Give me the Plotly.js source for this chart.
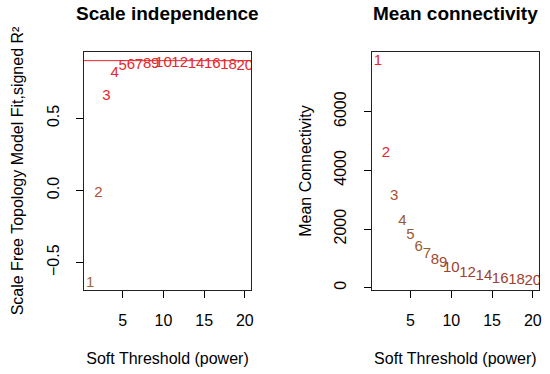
<!DOCTYPE html>
<html><head><meta charset="utf-8">
<script src="https://cdn.plot.ly/plotly-3.0.1.min.js"></script>
<style>body{margin:0;background:#fff}</style></head>
<body><div id="chart" style="width:550px;height:374px"></div>
<script>
const powers = [1,2,3,4,5,6,7,8,9,10,12,14,16,18,20];
const powerLabels = ["1","2","3","4","5","6","7","8","9","10","12","14","16","18","20"];
const scaleFitR2 = [-0.642,-0.02,0.655,0.812,0.858,0.865,0.870,0.877,0.877,0.882,0.882,0.877,0.873,0.870,0.863];
const meanConnectivity = [7708,4578,3119,2275,1787,1366,1138,933,820,649,512,386,307,249,215];
const cutHeight = 0.9;
const xTicks = [5,10,15,20];
const leftYTicks = [-0.5,0,0.5];
const leftYTickText = ["\u22120.5","0.0","0.5"];
const rightYTicks = [0,2000,4000,6000];
const rightYTickText = ["0","2000","4000","6000"];
const leftColors = ["#9a6a3a","#b05030","#e8262b","#e8262b","#e8262b","#e8262b","#e8262b","#e8262b","#e8262b","#e8262b","#e8262b","#e8262b","#e8262b","#e8262b","#e8262b"];
const rightColors = ["#e8262b","#e8262b","#a8502e","#9a5a30","#9a5a30","#9a5a30","#9a5a30","#a04a30","#a04a30","#a04030","#a04030","#a04030","#a04030","#a04030","#a04030"];

const FONT = "Liberation Sans, Arial, Helvetica, sans-serif";
const W = 550, H = 374;
const box = {top:52, bottom:290};
const yDom = [(H-box.bottom)/H, (H-box.top)/H];

const traces = [
  {x: powers, y: scaleFitR2, text: powerLabels, mode: "text", type: "scatter",
   textfont: {family: FONT, size: 15, color: leftColors}, xaxis: "x", yaxis: "y", hoverinfo: "none"},
  {x: powers, y: meanConnectivity, text: powerLabels, mode: "text", type: "scatter",
   textfont: {family: FONT, size: 15, color: rightColors}, xaxis: "x2", yaxis: "y2", hoverinfo: "none"}
];

function xAxis(dom, anchor) {
  return {domain: dom, anchor: anchor, range: [0.24, 20.76], tickvals: xTicks, ticktext: xTicks.map(String),
    ticks: "outside", ticklen: 7, tickcolor: "#000", tickwidth: 1, showline: true, mirror: true,
    linecolor: "#222", linewidth: 1, showgrid: false, zeroline: false,
    tickfont: {family: FONT, size: 16, color: "#000"}, ticklabelstandoff: 9,
    title: {text: "Soft Threshold (power)", font: {family: FONT, size: 16, color: "#000"}, standoff: 24}};
}
function yAxis(range, vals, txt, anchor, title) {
  return {domain: yDom, anchor: anchor, range: range, tickvals: vals, ticktext: txt, tickangle: -90,
    ticks: "outside", ticklen: 7, tickcolor: "#000", tickwidth: 1, showline: true, mirror: true,
    linecolor: "#222", linewidth: 1, showgrid: false, zeroline: false,
    tickfont: {family: FONT, size: 16, color: "#000"}, ticklabelstandoff: 11,
    title: {text: title, font: {family: FONT, size: 16, color: "#000"}, standoff: 16}};
}

const layout = {
  width: W, height: H, margin: {l:0, r:0, t:0, b:0}, showlegend: false,
  paper_bgcolor: "#fff", plot_bgcolor: "#fff",
  xaxis: xAxis([84/W, 251/W], "y"),
  yaxis: yAxis([-0.69, 0.96], leftYTicks, leftYTickText, "x", "Scale Free Topology Model Fit,signed R\u00b2"),
  xaxis2: xAxis([371.7/W, 539/W], "y2"),
  yaxis2: yAxis([-75, 8029], rightYTicks, rightYTickText, "x2", "Mean Connectivity"),
  shapes: [{type: "line", xref: "x domain", yref: "y", x0: 0, x1: 1, y0: cutHeight, y1: cutHeight,
            line: {color: "#e8262b", width: 1}}],
  annotations: [
    {text: "<b>Scale independence</b>", xref: "paper", yref: "paper", x: (84+251)/2/W, y: (H-13)/H,
     xanchor: "center", yanchor: "middle", showarrow: false, font: {family: FONT, size: 19, color: "#000"}},
    {text: "<b>Mean connectivity</b>", xref: "paper", yref: "paper", x: (371.7+539)/2/W, y: (H-13)/H,
     xanchor: "center", yanchor: "middle", showarrow: false, font: {family: FONT, size: 19, color: "#000"}}
  ]
};
Plotly.newPlot("chart", traces, layout, {staticPlot: true, displayModeBar: false});
</script></body></html>
